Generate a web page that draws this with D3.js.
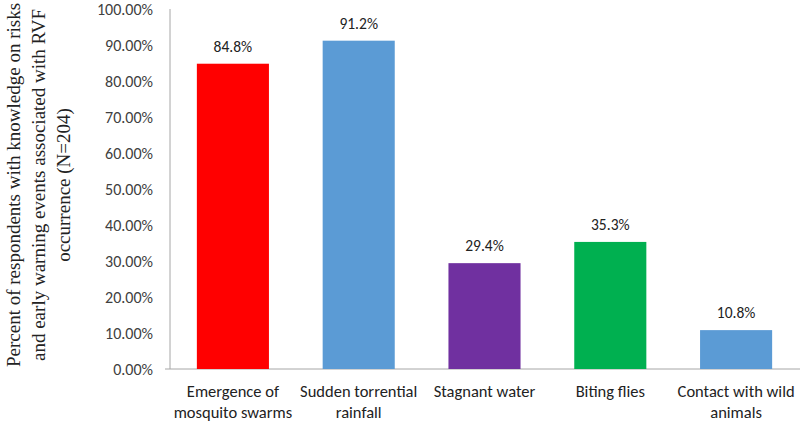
<!DOCTYPE html>
<html><head><meta charset="utf-8">
<script src="https://cdn.jsdelivr.net/npm/d3@7"></script>
<style>body{margin:0;background:#fff}</style>
</head><body>
<svg id="c" width="800" height="421"></svg>
<script>
const categories = [["Emergence of","mosquito swarms"],["Sudden torrential","rainfall"],["Stagnant water"],["Biting flies"],["Contact with wild","animals"]];
const values = [84.8, 91.2, 29.4, 35.3, 10.8];
const colors = ["#FF0000","#5B9BD5","#7030A0","#00B050","#5B9BD5"];
const yTicks = [0,10,20,30,40,50,60,70,80,90,100];
const yTitle = ["Percent of respondents with knowledge on risks","and early warning events associated with RVF","occurrence (N=204)"];

const svg = d3.select("#c");
const m = {left:170, right:1, top:9, bottom:52};
const W = 800, H = 421;
const x = d3.scaleBand().domain(d3.range(values.length)).range([m.left, W-m.right]).paddingInner(0.427).paddingOuter(0.2135);
const y = d3.scaleLinear().domain([0,100]).range([H-m.bottom, m.top]);
const font = "Carlito, 'Open Sans', 'Liberation Sans', sans-serif";

svg.append("line").attr("x1",m.left).attr("x2",m.left).attr("y1",y(100)).attr("y2",y(0)).attr("stroke","#a6a6a6");
svg.append("line").attr("x1",m.left-5).attr("x2",W).attr("y1",y(0)).attr("y2",y(0)).attr("stroke","#a6a6a6");

const ya = svg.append("g").attr("transform",`translate(${m.left},0)`)
  .call(d3.axisLeft(y).tickValues(yTicks).tickSize(0).tickPadding(17).tickFormat(d=>d.toFixed(2)+"%"));
ya.select(".domain").remove();
ya.selectAll("text").attr("font-family",font).attr("font-size",16).attr("fill","#404040");

svg.selectAll("rect.bar").data(values).join("rect").attr("class","bar")
  .attr("x",(d,i)=>x(i)).attr("width",x.bandwidth())
  .attr("y",d=>y(d)).attr("height",d=>y(0)-y(d)).attr("fill",(d,i)=>colors[i]);

svg.selectAll("text.val").data(values).join("text").attr("class","val")
  .attr("x",(d,i)=>x(i)+x.bandwidth()/2).attr("y",d=>y(d)-12)
  .attr("text-anchor","middle").attr("font-family",font).attr("font-size",15.5).attr("fill","#222")
  .text(d=>d.toFixed(1)+"%");

const cl = svg.selectAll("text.cat").data(categories).join("text").attr("class","cat")
  .attr("text-anchor","middle").attr("font-family",font).attr("font-size",16.5).attr("fill","#222");
cl.each(function(lines,i){
  const t = d3.select(this);
  lines.forEach((l,j)=>t.append("tspan").attr("x",x(i)+x.bandwidth()/2).attr("y",397+j*20.5).text(l));
});

const tt = svg.append("text").attr("transform","translate(0,185) rotate(-90)")
  .attr("text-anchor","middle").attr("font-family","'Liberation Serif', 'Times New Roman', serif").attr("font-size",19).attr("fill","#222");
yTitle.forEach((l,j)=>tt.append("tspan").attr("x",0).attr("y",20+j*25).text(l));
</script>
</body></html>
